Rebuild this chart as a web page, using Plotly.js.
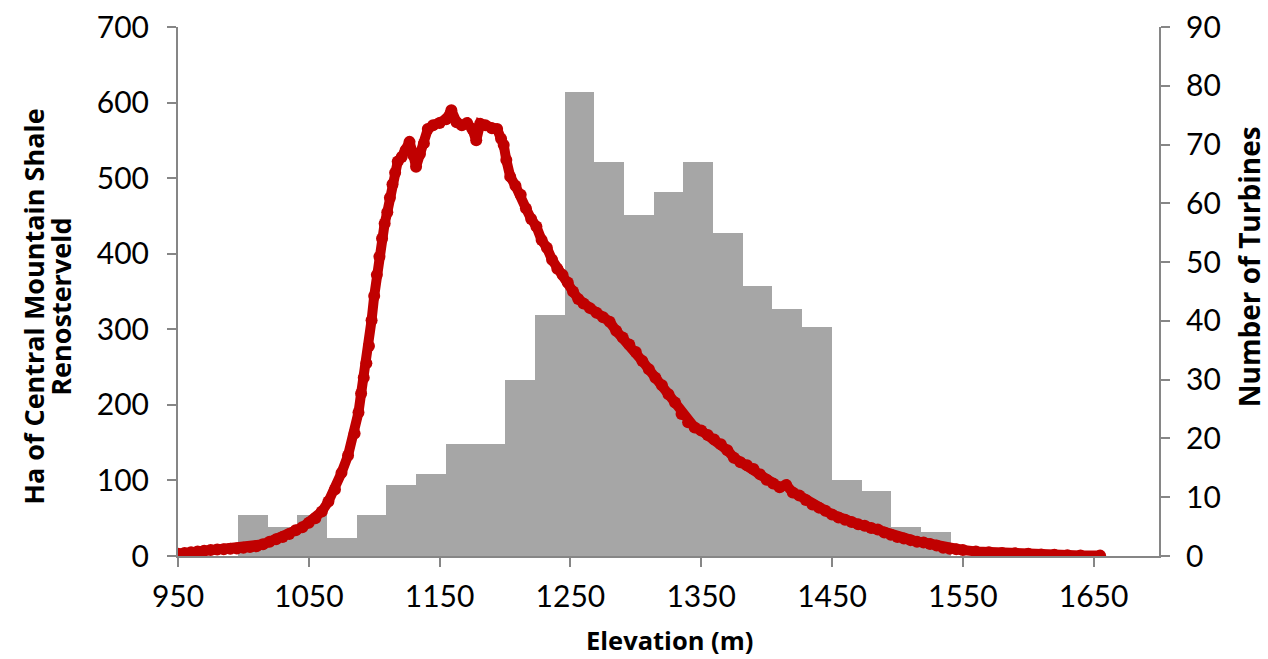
<!DOCTYPE html>
<html>
<head>
<meta charset="utf-8">
<script src="https://cdn.plot.ly/plotly-3.0.1.min.js"></script>
<style>html,body{margin:0;padding:0;background:#fff;}#chart{width:1268px;height:659px;}</style>
</head>
<body>
<div id="chart"></div>
<script>
// Turbine histogram: elevation class midpoints (m) and number of turbines
var binMid = [1007.2, 1029.9, 1052.6, 1075.3, 1098.0, 1120.7, 1143.4, 1166.1, 1188.8, 1211.5, 1234.2, 1256.9,
              1279.6, 1302.3, 1325.0, 1347.7, 1370.4, 1393.1, 1415.8, 1438.5, 1461.2, 1483.9, 1506.6, 1529.3];
var turbines = [7, 5, 7, 3, 7, 12, 14, 19, 19, 30, 41, 79, 67, 58, 62, 67, 55, 46, 42, 39, 13, 11, 5, 4];

// Central Mountain Shale Renosterveld area (ha) by elevation (m)
var elev = [950, 955, 960, 965, 970, 975, 980, 985, 990, 995, 1000, 1005, 1010, 1015, 1020, 1025, 1030, 1035, 1040, 1045,
            1050, 1055, 1060, 1065, 1070, 1075, 1080, 1085, 1088, 1090, 1092, 1094, 1096, 1098, 1100, 1102, 1104, 1106, 1108,
            1110, 1112, 1114, 1116, 1118, 1121, 1124, 1127, 1130, 1132, 1135, 1138, 1141, 1145, 1150, 1155, 1159, 1163, 1167,
            1171, 1175, 1178, 1181, 1185, 1190, 1194, 1197, 1199, 1201, 1204, 1208, 1212, 1216, 1220, 1224, 1228, 1232, 1236,
            1240, 1244, 1248, 1252, 1256, 1260, 1265, 1270, 1275, 1280, 1285, 1290, 1295, 1300, 1305, 1310, 1315, 1320, 1325,
            1330, 1335, 1340, 1345, 1350, 1355, 1360, 1365, 1370, 1375, 1380, 1385, 1390, 1395, 1400, 1405, 1410, 1415, 1420,
            1425, 1430, 1435, 1440, 1445, 1450, 1455, 1460, 1465, 1470, 1475, 1480, 1485, 1490, 1495, 1500, 1505, 1510, 1515,
            1520, 1525, 1530, 1535, 1540, 1545, 1550, 1560, 1570, 1580, 1590, 1600, 1610, 1620, 1630, 1640, 1655];
var hectares = [3, 4, 5, 6, 7, 8, 8.5, 9, 9.5, 10, 11, 12, 13, 15.5, 19, 22, 25, 29, 34, 38,
                44, 50, 59, 72, 88, 110, 133, 162, 190, 215, 236, 255, 278, 312, 344, 372, 396, 420, 440,
                455, 474, 492, 507, 522, 528, 537, 548, 530, 515, 532, 546, 565, 570, 573, 578, 590, 574, 570,
                573, 565, 550, 572, 570, 566, 565, 552, 544, 524, 502, 490, 478, 460, 446, 436, 418, 408, 392,
                380, 372, 362, 350, 340, 334, 328, 322, 316, 310, 298, 289, 280, 270, 258, 247, 236, 226, 214,
                203, 188, 177, 170, 166, 160, 154, 148, 140, 130, 124, 120, 115, 108, 101, 96, 91, 94, 84,
                80, 74, 68, 64, 60, 55, 51, 48, 45, 42, 40, 37, 35, 31, 28, 25, 23, 21, 19,
                18, 16, 14, 11, 9.5, 9, 8, 6, 5, 4, 3.5, 3, 2, 1.5, 1, 0.8, 0.5];

var xTicks = [950, 1050, 1150, 1250, 1350, 1450, 1550, 1650];

var axisColor = '#868686';
var tickFam = 'Lato, "Open Sans", sans-serif';
var titleFam = '"Open Sans", Lato, sans-serif';

var traces = [
  {
    type: 'bar', x: binMid, y: turbines, yaxis: 'y', width: 22.7,
    marker: {color: '#a6a6a6', line: {width: 0}}, hoverinfo: 'x+y', name: 'Turbines'
  },
  {
    type: 'scatter', mode: 'lines+markers', x: elev, y: hectares, yaxis: 'y2',
    line: {color: '#c00000', width: 10}, marker: {color: '#c00000', size: 12},
    name: 'Ha'
  }
];

var tf = {family: tickFam, size: 30, color: '#000'};

var layout = {
  width: 1268, height: 659,
  margin: {l: 178, r: 109, t: 27, b: 103},
  paper_bgcolor: '#fff', plot_bgcolor: '#fff',
  showlegend: false, bargap: 0,
  font: {family: tickFam, size: 30, color: '#000'},
  xaxis: {
    range: [950, 1700], tickvals: xTicks, ticktext: xTicks.map(String),
    showline: true, linecolor: axisColor, linewidth: 2,
    ticks: 'outside', ticklen: 9, tickwidth: 2, tickcolor: axisColor,
    showgrid: false, zeroline: false, tickfont: tf, ticklabelstandoff: 4
  },
  yaxis: {
    range: [0, 90], dtick: 10, side: 'right',
    showline: true, linecolor: axisColor, linewidth: 2,
    ticks: 'outside', ticklen: 9, tickwidth: 2, tickcolor: axisColor,
    showgrid: false, zeroline: false, tickfont: tf,
    ticklabelstandoff: 10
  },
  yaxis2: {
    range: [0, 700], dtick: 100, side: 'left', overlaying: 'y',
    showline: true, linecolor: axisColor, linewidth: 2,
    ticks: 'outside', ticklen: 9, tickwidth: 2, tickcolor: axisColor,
    showgrid: false, zeroline: false, tickfont: tf,
    ticklabelstandoff: 12
  },
  annotations: [
    {text: '<b>Elevation (m)</b>', xref: 'paper', yref: 'paper', x: 0.501, y: -0.1588,
     xanchor: 'center', yanchor: 'middle', showarrow: false,
     font: {family: titleFam, size: 25.5, color: '#000'}},
    {text: '<b>Ha of Central Mountain Shale</b>', xref: 'paper', yref: 'paper',
     x: -0.1469, y: 0.471, xanchor: 'center', yanchor: 'middle', textangle: -90, showarrow: false,
     font: {family: titleFam, size: 27, color: '#000'}},
    {text: '<b>Renosterveld</b>', xref: 'paper', yref: 'paper',
     x: -0.1194, y: 0.471, xanchor: 'center', yanchor: 'middle', textangle: -90, showarrow: false,
     font: {family: titleFam, size: 27, color: '#000'}},
    {text: '<b>Number of Turbines</b>', xref: 'paper', yref: 'paper', x: 1.0918, y: 0.546,
     xanchor: 'center', yanchor: 'middle', textangle: -90, showarrow: false,
     font: {family: titleFam, size: 28, color: '#000'}}
  ]
};

Plotly.newPlot('chart', traces, layout, {displayModeBar: false, staticPlot: true});
</script>
</body>
</html>
